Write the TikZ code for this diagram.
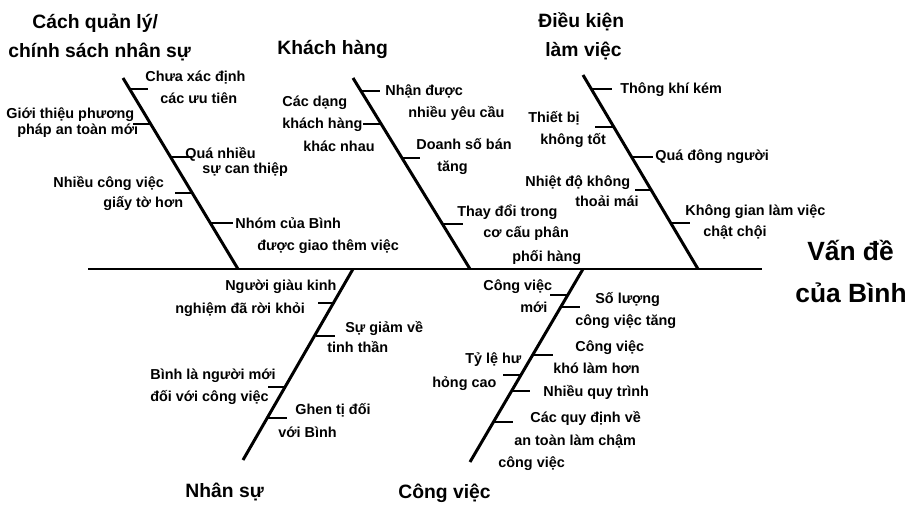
\documentclass[tikz,border=0pt]{standalone}
\usepackage{fontspec}
\setmainfont{Liberation Sans}
\newcommand{\shiftin}[1]{\hspace*{#1mm}}

\begin{document}
\begin{tikzpicture}[x=0.02cm, y=-0.02cm,
    bone/.style={line width=1.7pt},
    tick/.style={line width=1.4pt},
    cause/.style={anchor=base west, inner sep=0pt, align=left,
      font=\fontsize{8.2}{12.5}\selectfont\bfseries},
    group/.style={anchor=base west, inner sep=0pt, align=left,
      font=\fontsize{11}{16.4}\selectfont\bfseries},
    effect/.style={anchor=base west, inner sep=0pt, align=left,
      font=\fontsize{15}{23.8}\selectfont\bfseries}]
  % \draw[help lines, gray!50, very thin] (0,0) grid[step=50] (909,504);
  \useasboundingbox (0,0) rectangle (909,504);

  % spine and bones
  \coordinate (tail) at (88,269);
  \coordinate (head) at (762,269);
  \coordinate (qlTop) at (123,78);   \coordinate (qlEnd) at (238,269);
  \coordinate (khTop) at (353,78);   \coordinate (khEnd) at (470,269);
  \coordinate (dkTop) at (583,75);   \coordinate (dkEnd) at (698,269);
  \coordinate (nsBot) at (243,460);  \coordinate (nsEnd) at (353,269);
  \coordinate (cvBot) at (470,462);  \coordinate (cvEnd) at (583,269);
  \draw[bone] (tail) -- (head);
  \draw[bone] (qlTop) -- (qlEnd);
  \draw[bone] (khTop) -- (khEnd);
  \draw[bone] (dkTop) -- (dkEnd);
  \draw[bone] (nsBot) -- (nsEnd);
  \draw[bone] (cvBot) -- (cvEnd);

  % group names (base = last line)
  \node[group] (gQuanLy) at (8,57) {\shiftin{4.8}Cách quản lý/\\[-0.4pt]chính sách nhân sự};
  \node[group] (gKhach) at (277,54) {Khách hàng};
  \node[group] (gDieuKien) at (538,56) {Điều kiện\\\shiftin{1.4}làm việc};
  \node[group] (gNhanSu) at (185,497) {Nhân sự};
  \node[group] (gCongViec) at (398,498) {Công việc};
  \node[effect] (vanDe) at (795,302) {\shiftin{2.4}Vấn đề\\của Bình};

  % Cach quan ly
  \draw[tick] (130,89) -- (148,89);
  \draw[tick] (133,124) -- (151,124);
  \draw[tick] (171,157) -- (192,157);
  \draw[tick] (175,193) -- (192,193);
  \draw[tick] (210,223) -- (233,223);
  \node[cause] (ql1) at (145,103) {Chưa xác định\\\shiftin{3}các ưu tiên};
  \node[cause] (ql2) at (6,134) {Giới thiệu phương\\[-3.4pt]\shiftin{2.2}pháp an toàn mới};
  \node[cause] (ql3) at (185,173) {Quá nhiều\\[-4pt]\shiftin{3.4}sự can thiệp};
  \node[cause] (ql4) at (53,207) {Nhiều công việc\\[-1.2pt]\shiftin{10}giấy tờ hơn};
  \node[cause] (ql5) at (235,250) {Nhóm của Bình\\\shiftin{4.4}được giao thêm việc};

  % Khach hang
  \draw[tick] (361,91) -- (380,91);
  \draw[tick] (363,124) -- (381,124);
  \draw[tick] (402,158) -- (420,158);
  \draw[tick] (443,224) -- (463,224);
  \node[cause] (kh1) at (385,117) {Nhận được\\\shiftin{4.6}nhiều yêu cầu};
  \node[cause] (kh2) at (282,151) {Các dạng\\khách hàng\\[0.5pt]\shiftin{4.2}khác nhau};
  \node[cause] (kh3) at (416,171) {Doanh số bán\\\shiftin{4.2}tăng};
  \node[cause] (kh4) at (457,261) {Thay đổi trong\\[-0.6pt]\shiftin{5.2}cơ cấu phân\\[1.1pt]\shiftin{11}phối hàng};

  % Dieu kien lam viec
  \draw[tick] (591,89) -- (612,89);
  \draw[tick] (595,127) -- (614,127);
  \draw[tick] (632,157) -- (653,157);
  \draw[tick] (635,190) -- (652,190);
  \draw[tick] (672,223) -- (690,223);
  \node[cause] (dk1) at (620,93) {Thông khí kém};
  \node[cause] (dk2) at (528,144) {Thiết bị\\\shiftin{2.4}không tốt};
  \node[cause] (dk3) at (655,160) {Quá đông người};
  \node[cause] (dk4) at (525,206) {Nhiệt độ không\\[-1.2pt]\shiftin{10}thoải mái};
  \node[cause] (dk5) at (685,236) {Không gian làm việc\\[-0.6pt]\shiftin{3.6}chật chội};

  % Nhan su
  \draw[tick] (318,303) -- (335,303);
  \draw[tick] (316,336) -- (335,336);
  \draw[tick] (268,387) -- (286,387);
  \draw[tick] (268,418) -- (287,418);
  \node[cause] (ns1) at (175,313) {\shiftin{10}Người giàu kinh\\[0.5pt]nghiệm đã rời khỏi};
  \node[cause] (ns2) at (327,352) {\shiftin{3.6}Sự giảm về\\[-1.2pt]tinh thần};
  \node[cause] (ns3) at (150,401) {Bình là người mới\\đối với công việc};
  \node[cause] (ns4) at (278,437) {\shiftin{3.4}Ghen tị đối\\[0.5pt]với Bình};

  % Cong viec
  \draw[tick] (550,295) -- (569,295);
  \draw[tick] (562,307) -- (580,307);
  \draw[tick] (533,355) -- (553,355);
  \draw[tick] (503,375) -- (521,375);
  \draw[tick] (512,391) -- (530,391);
  \draw[tick] (494,422) -- (513,422);
  \node[cause] (cv1) at (483,312) {Công việc\\\shiftin{7.4}mới};
  \node[cause] (cv2) at (575,325) {\shiftin{4}Số lượng\\công việc tăng};
  \node[cause] (cv3) at (553,373) {\shiftin{4.4}Công việc\\khó làm hơn};
  \node[cause] (cv4) at (432,387) {\shiftin{6.6}Tỷ lệ hư\\[1.1pt]hỏng cao};
  \node[cause] (cv5) at (543,396) {Nhiều quy trình};
  \node[cause] (cv6) at (498,467) {\shiftin{6.4}Các quy định về\\[0.5pt]\shiftin{3.2}an toàn làm chậm\\công việc};
\end{tikzpicture}
\end{document}
